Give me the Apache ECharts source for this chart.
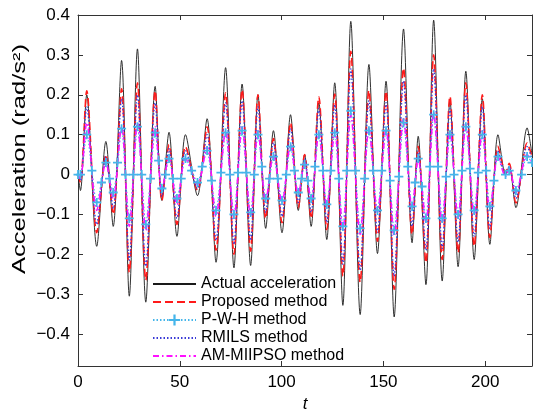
<!DOCTYPE html>
<html><head><meta charset="utf-8">
<script src="https://cdn.jsdelivr.net/npm/echarts@6/dist/echarts.min.js"></script>
<style>html,body{margin:0;padding:0;background:#fff}#c{width:533px;height:411px}</style>
</head><body><div id="c"></div>
<script>
// time of each extremum
const tTime = [
  0, 1.2, 4.3, 9.2, 13.7, 17.3, 21.4, 25.2, 29.2, 33.3,
  37.9, 41.2, 44.7, 48.6, 52.8, 58.7, 63.4, 67.8, 72.5, 76.6,
  80.6, 84.8, 88.4, 92.2, 96, 100.2, 104.4, 108.2, 111.3, 114.5,
  118.3, 122.2, 126.1, 130.1, 134, 138.6, 142.9, 147.1, 151.3, 155.3,
  159.9, 164.1, 167.1, 170.9, 174.7, 178.9, 182.7, 186.7, 190.5, 194.6,
  198.6, 202.3, 206.3, 210, 211.8, 215.1, 220.6, 223
];
const actualAcc = [
  0, -0.04, 0.20, -0.18, 0.083, -0.13, 0.286, -0.305, 0.315, -0.32,
  0.221, -0.065, 0.106, -0.155, 0.10, -0.053, 0.14, -0.22, 0.268, -0.234,
  0.227, -0.228, 0.20, -0.135, 0.11, -0.146, 0.15, -0.09, 0.05, -0.13,
  0.18, -0.163, 0.23, -0.328, 0.384, -0.351, 0.276, -0.198, 0.234, -0.357,
  0.365, -0.171, 0.096, -0.276, 0.387, -0.267, 0.185, -0.231, 0.259, -0.213,
  0.19, -0.175, 0.10, 0.0, 0.02, -0.083, 0.117, 0.05
];
const proposed = [
  0, -0.02, 0.21, -0.146, 0.05, -0.10, 0.215, -0.245, 0.23, -0.265,
  0.21, -0.065, 0.075, -0.125, 0.07, -0.04, 0.12, -0.19, 0.205, -0.20,
  0.213, -0.192, 0.20, -0.11, 0.09, -0.121, 0.13, -0.083, 0.05, -0.11,
  0.195, -0.138, 0.202, -0.255, 0.309, -0.27, 0.211, -0.167, 0.209, -0.288,
  0.267, -0.15, 0.071, -0.221, 0.30, -0.213, 0.196, -0.196, 0.23, -0.18,
  0.20, -0.158, 0.071, 0.005, 0.028, -0.071, 0.079, 0.045
];
const rmils = [
  0, -0.015, 0.17, -0.125, 0.045, -0.085, 0.19, -0.215, 0.2, -0.23,
  0.18, -0.055, 0.065, -0.11, 0.06, -0.035, 0.10, -0.165, 0.18, -0.175,
  0.185, -0.165, 0.17, -0.095, 0.08, -0.105, 0.115, -0.07, 0.04, -0.095,
  0.165, -0.12, 0.175, -0.225, 0.265, -0.24, 0.185, -0.145, 0.18, -0.255,
  0.235, -0.13, 0.06, -0.19, 0.265, -0.185, 0.165, -0.17, 0.2, -0.155,
  0.17, -0.135, 0.06, 0.0, 0.02, -0.06, 0.07, 0.04
];
const amMiipso = [
  0, -0.01, 0.13, -0.09, 0.03, -0.06, 0.12, -0.13, 0.13, -0.14,
  0.12, -0.04, 0.045, -0.075, 0.04, -0.025, 0.07, -0.105, 0.11, -0.11,
  0.12, -0.105, 0.11, -0.065, 0.05, -0.07, 0.075, -0.05, 0.03, -0.065,
  0.105, -0.08, 0.11, -0.14, 0.15, -0.15, 0.115, -0.095, 0.115, -0.155,
  0.14, -0.085, 0.04, -0.12, 0.155, -0.12, 0.11, -0.11, 0.125, -0.1,
  0.11, -0.09, 0.045, -0.005, 0.015, -0.045, 0.05, 0.03
];
// P-W-H method: extrema plus the points where its markers sit near zero
const pwhTime = [
  0, 1.2, 4.3, 6.8, 9.2, 11.5, 13.7, 15.5, 17.3, 19.4,
  21.4, 23.3, 25.2, 27.2, 29.2, 31.3, 33.3, 35.6, 37.9, 39.6,
  41.2, 43, 44.7, 46.7, 48.6, 50.7, 52.8, 55.8, 58.7, 61,
  63.4, 65.6, 67.8, 70.2, 72.5, 74.6, 76.6, 78.6, 80.6, 82.7,
  84.8, 86.6, 88.4, 90.3, 92.2, 94.1, 96, 98.1, 100.2, 102.3,
  104.4, 106.3, 108.2, 109.8, 111.3, 112.9, 114.5, 116.4, 118.3, 120.3,
  122.2, 124.2, 126.1, 128.1, 130.1, 132, 134, 136.3, 138.6, 140.8,
  142.9, 145, 147.1, 149.2, 151.3, 153.3, 155.3, 157.6, 159.9, 162,
  164.1, 165.6, 167.1, 169, 170.9, 172.8, 174.7, 176.8, 178.9, 180.8,
  182.7, 184.7, 186.7, 188.6, 190.5, 192.6, 194.6, 196.6, 198.6, 200.5,
  202.3, 204.3, 206.3, 210, 211.8, 215.1, 217.9, 220.6, 223
];
const pwh = [
  0, 0, 0.10, 0.01, -0.07, -0.02, 0.03, -0.01, -0.045, 0.03,
  0.115, 0, -0.11, 0, 0.12, 0, -0.125, -0.01, 0.105, 0.035,
  -0.035, 0, 0.04, -0.01, -0.06, -0.01, 0.04, 0.01, -0.02, 0.02,
  0.06, -0.015, -0.09, 0.005, 0.105, 0, -0.1, 0.005, 0.11, 0.005,
  -0.095, 0, 0.10, 0.02, -0.06, -0.01, 0.045, -0.01, -0.065, 0,
  0.07, 0.01, -0.045, -0.01, 0.025, -0.015, -0.06, 0.02, 0.1, 0.01,
  -0.075, 0.01, 0.105, -0.01, -0.13, 0.01, 0.16, 0.01, -0.135, -0.01,
  0.11, 0.01, -0.09, 0.01, 0.11, -0.015, -0.14, -0.005, 0.13, 0.02,
  -0.08, -0.02, 0.04, -0.03, -0.11, 0.02, 0.15, 0.02, -0.11, -0.005,
  0.1, 0, -0.1, 0.01, 0.12, 0.015, -0.09, 0.005, 0.1, 0.01,
  -0.08, -0.015, 0.045, 0, 0.01, -0.04, 0, 0.045, 0.03
];
const seriesNames = ['Actual acceleration', 'Proposed method', 'P-W-H method', 'RMILS method', 'AM-MIIPSO method'];
const xTicks = [0, 50, 100, 150, 200];
const yTicks = [-0.4, -0.3, -0.2, -0.1, 0, 0.1, 0.2, 0.3, 0.4];
const xLabel = 't';
const yLabel = 'Acceleration (rad/s\u00B2)';

const FONT = "'Liberation Sans', Arial, sans-serif";
const zip = (a, b) => a.map((x, i) => [x, b[i]]);
const axisColor = '#333';
const chart = echarts.init(document.getElementById('c'), null, {renderer: 'canvas'});

function lineSeries(name, data, color, type, width, extra) {
  return Object.assign({
    name: name, type: 'line', data: data, smooth: 0.3,
    symbol: 'none', animation: false, clip: true,
    lineStyle: {color: color, width: width, type: type},
    itemStyle: {color: color},
    emphasis: {disabled: true}
  }, extra || {});
}

const legendData = seriesNames.map((n, i) => i === 2 ? {name: n} : {name: n, itemStyle: {opacity: 0}});

const option = {
  animation: false,
  backgroundColor: '#fff',
  grid: {left: 78, right: 1, top: 15, bottom: 45, show: false, containLabel: false, outerBoundsMode: 'none'},
  legend: {
    orient: 'vertical', left: 152, top: 276, padding: 0,
    itemWidth: 43, itemHeight: 14, itemGap: 2,
    textStyle: {fontFamily: FONT, fontSize: 16, color: '#000', lineHeight: 16},
    data: legendData, selectedMode: false
  },
  xAxis: [{
    type: 'value', min: 0, max: 223, position: 'bottom',
    name: xLabel, nameLocation: 'middle', nameGap: 27,
    nameTextStyle: {fontFamily: FONT, fontSize: 17, fontStyle: 'italic', color: '#000'},
    axisLine: {show: true, onZero: false, lineStyle: {color: axisColor, width: 1}},
    axisTick: {show: true, inside: true, length: 5, customValues: xTicks, lineStyle: {color: axisColor}},
    axisLabel: {show: true, margin: 8, fontFamily: FONT, fontSize: 17, color: '#000', customValues: xTicks},
    splitLine: {show: false}
  }, {
    type: 'value', min: 0, max: 223, position: 'top',
    axisLine: {show: true, onZero: false, lineStyle: {color: axisColor, width: 1}},
    axisTick: {show: true, inside: true, length: 5, customValues: xTicks, lineStyle: {color: axisColor}},
    axisLabel: {show: false}, splitLine: {show: false}
  }],
  yAxis: [{
    type: 'value', min: -0.48, max: 0.4, position: 'left',
    axisLine: {show: true, onZero: false, lineStyle: {color: axisColor, width: 1}},
    axisTick: {show: true, inside: true, length: 5, customValues: yTicks, lineStyle: {color: axisColor}},
    axisLabel: {show: true, margin: 8, fontFamily: FONT, fontSize: 17, color: '#000', customValues: yTicks,
      formatter: v => (v < 0 ? '\u2212' + String(Math.abs(+v.toFixed(2))) : String(+v.toFixed(2)))},
    splitLine: {show: false}
  }, {
    type: 'value', min: -0.48, max: 0.4, position: 'right',
    axisLine: {show: true, onZero: false, lineStyle: {color: axisColor, width: 1}},
    axisTick: {show: true, inside: true, length: 5, customValues: yTicks, lineStyle: {color: axisColor}},
    axisLabel: {show: false}, splitLine: {show: false}
  }],
  graphic: [{
    type: 'text', x: 20, y: 159, rotation: Math.PI / 2, scaleX: 1.42, scaleY: 1,
    style: {text: yLabel, font: '18px ' + FONT, fill: '#000', textAlign: 'center', textVerticalAlign: 'middle'}
  }],
  series: [
    lineSeries(seriesNames[0], zip(tTime, actualAcc), '#1a1a1a', 'solid', 0.9),
    lineSeries(seriesNames[1], zip(tTime, proposed), '#ff1a1a', [8, 4], 1.6),
    lineSeries(seriesNames[2], zip(pwhTime, pwh), '#45b5ea', [1.5, 2], 1.2, {
      symbol: 'path://M4,0h2v4h4v2h-4v4h-2v-4h-4v-2h4z', symbolSize: 9, showSymbol: true,
      itemStyle: {color: '#45b5ea'}
    }),
    lineSeries(seriesNames[3], zip(tTime, rmils), '#3a3ad6', [1.5, 2], 1.4),
    lineSeries(seriesNames[4], zip(tTime, amMiipso), '#ff10ff', [6, 3, 1.5, 3], 1.5)
  ]
};
chart.setOption(option);
</script>
</body></html>
